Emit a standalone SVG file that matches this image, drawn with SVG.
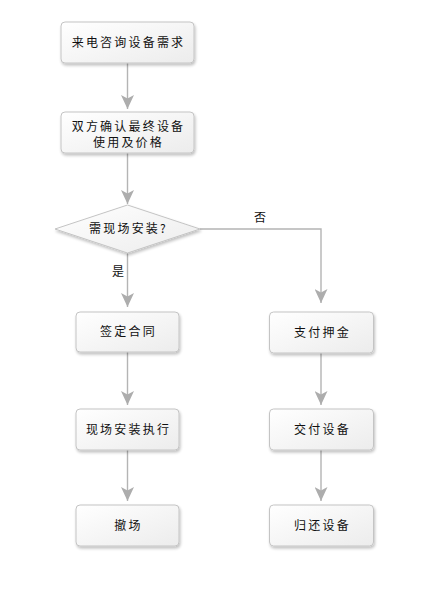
<svg xmlns="http://www.w3.org/2000/svg" width="435" height="593" viewBox="0 0 435 593">
<style>
.box{fill:url(#g);stroke:#c4c4c4;stroke-width:1;filter:url(#sh)}
.t{font-family:"Noto Sans CJK SC","Noto Sans",sans-serif;font-size:12px;fill:#111;letter-spacing:2.2px;text-anchor:middle}
.lbl{font-family:"Noto Sans CJK SC","Noto Sans",sans-serif;font-size:12px;fill:#111;text-anchor:middle}
.c{fill:none;stroke:#b4b4b4;stroke-width:1.4}
</style>
<defs>
<linearGradient id="g" x1="0" y1="0" x2="1" y2="1">
<stop offset="0" stop-color="#ffffff"/>
<stop offset="1" stop-color="#ececec"/>
</linearGradient>
<filter id="sh" x="-20%" y="-20%" width="150%" height="160%">
<feGaussianBlur in="SourceAlpha" stdDeviation="1.5"/>
<feOffset dx="1" dy="2" result="b"/>
<feComponentTransfer><feFuncA type="linear" slope="0.25"/></feComponentTransfer>
<feMerge><feMergeNode/><feMergeNode in="SourceGraphic"/></feMerge>
</filter>
<marker id="ah" markerWidth="14" markerHeight="13" refX="14" refY="6.5" orient="auto" markerUnits="userSpaceOnUse" viewBox="0 0 14 13">
<path d="M0,0 L3.5,6.5 L0,13 L14,6.5 Z" fill="#adadad"/>
</marker>
</defs>
<rect width="435" height="593" fill="#fff"/>
<g id="connectors">
<line class="c" x1="127.5" y1="63" x2="127.5" y2="109" marker-end="url(#ah)"/>
<line class="c" x1="127.5" y1="153" x2="127.5" y2="204" marker-end="url(#ah)"/>
<line class="c" x1="127.5" y1="253" x2="127.5" y2="307" marker-end="url(#ah)"/>
<polyline class="c" points="200,229 321,229 321,303" marker-end="url(#ah)"/>
<line class="c" x1="127.5" y1="352" x2="127.5" y2="405" marker-end="url(#ah)"/>
<line class="c" x1="127.5" y1="450" x2="127.5" y2="501" marker-end="url(#ah)"/>
<line class="c" x1="321" y1="353" x2="321" y2="405" marker-end="url(#ah)"/>
<line class="c" x1="321" y1="450" x2="321" y2="501" marker-end="url(#ah)"/>
<text class="lbl" x="260" y="222">否</text>
<text class="lbl" x="118" y="276">是</text>
</g>
<g id="n1"><rect class="box" x="61" y="22" width="133" height="41" rx="4"/><text class="t" x="128.5" y="47">来电咨询设备需求</text></g>
<g id="n2"><rect class="box" x="61" y="112" width="133" height="41" rx="4"/><text class="t" x="128.5" y="130.5">双方确认最终设备</text><text class="t" x="128.5" y="146.5">使用及价格</text></g>
<g id="n3"><polygon points="55,229 127.5,205 200,229 127.5,253" fill="url(#g)" stroke="#c4c4c4" filter="url(#sh)"/><text class="t" x="128.5" y="233">需现场安装?</text></g>
<g id="n4"><rect class="box" x="76" y="312" width="103" height="40" rx="4"/><text class="t" x="128.5" y="336">签定合同</text></g>
<g id="n5"><rect class="box" x="76" y="409" width="103" height="41" rx="4"/><text class="t" x="128.5" y="434">现场安装执行</text></g>
<g id="n6"><rect class="box" x="76" y="505" width="103" height="41" rx="4"/><text class="t" x="128.5" y="530">撤场</text></g>
<g id="n7"><rect class="box" x="269.5" y="312" width="104" height="41" rx="4"/><text class="t" x="322.5" y="337">支付押金</text></g>
<g id="n8"><rect class="box" x="269.5" y="409" width="104" height="41" rx="4"/><text class="t" x="322.5" y="434">交付设备</text></g>
<g id="n9"><rect class="box" x="269.5" y="505" width="104" height="41" rx="4"/><text class="t" x="322.5" y="530">归还设备</text></g>
</svg>
